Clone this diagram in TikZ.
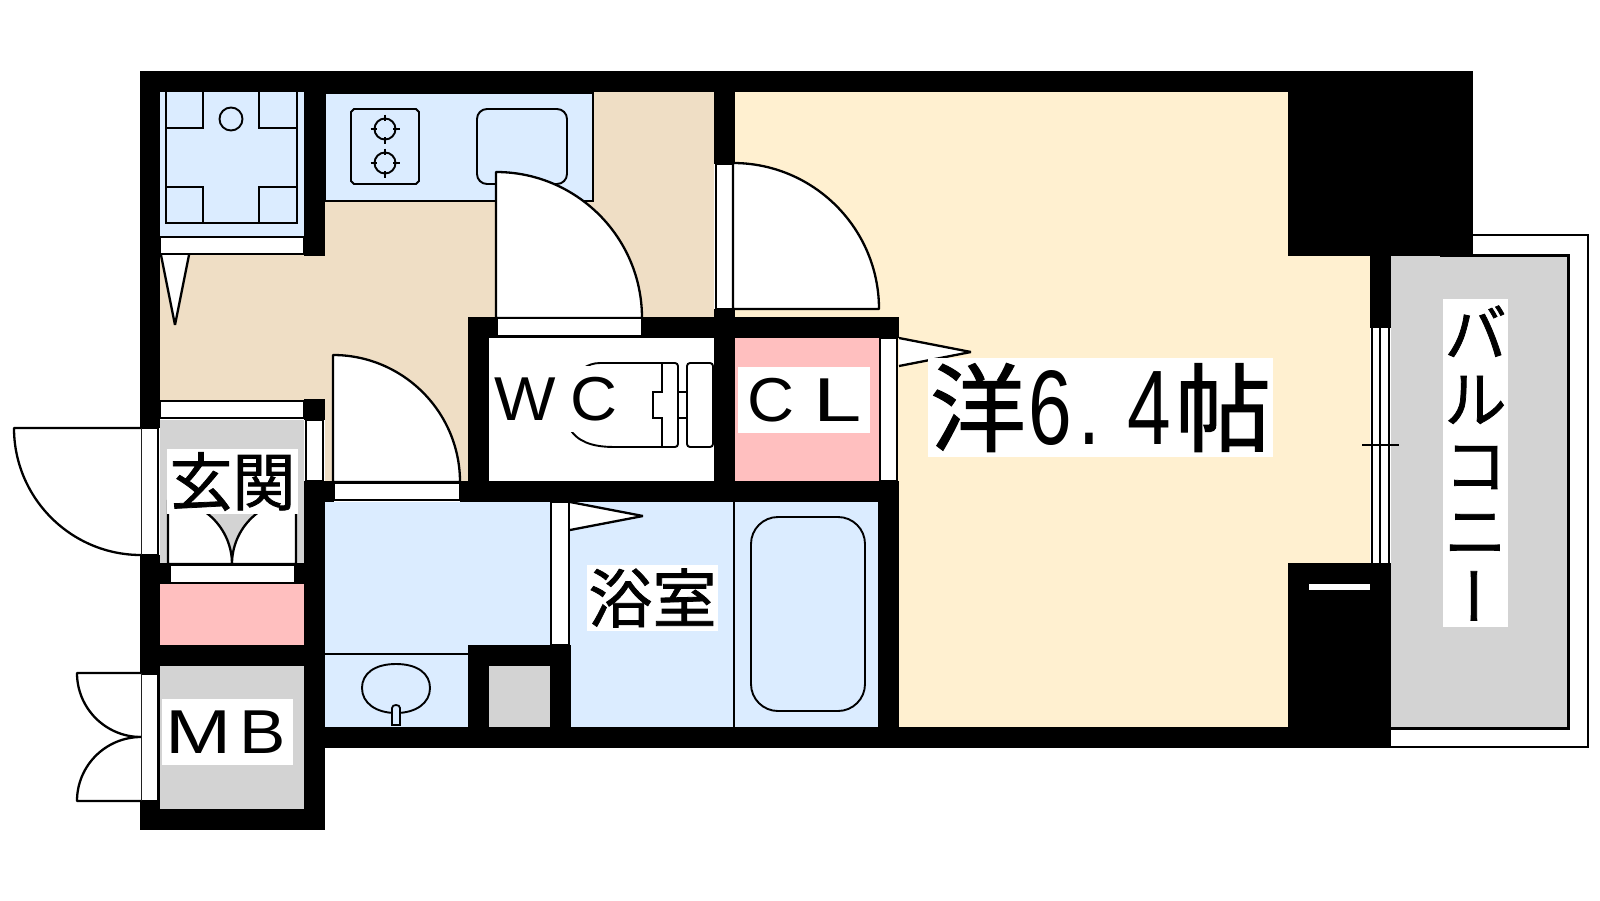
\documentclass[tikz,border=0pt]{standalone}
\usepackage{fontspec}
\setmainfont{Liberation Sans}
\newfontfamily\jp[FakeBold=1.2]{Noto Sans CJK JP}
\newfontfamily\wide[FakeStretch=1.28]{Liberation Sans}
\newfontfamily\widea[FakeStretch=1.12]{Liberation Sans}
\newfontfamily\wideb[FakeStretch=1.05]{Liberation Sans}
\newfontfamily\widec[FakeStretch=1.4]{Liberation Sans}
\newfontfamily\tall[FakeStretch=0.74]{Liberation Sans}
\definecolor{creamc}{HTML}{FFF0D0}
\definecolor{beigec}{HTML}{EFDEC5}
\definecolor{bluec}{HTML}{DBECFF}
\definecolor{pinkc}{HTML}{FFBFBF}
\definecolor{grayc}{HTML}{D3D3D3}
\tikzset{
  thin line/.style={draw=black,line width=1.6pt},
  ln/.style={draw=black,line width=1.9pt},
  heavy/.style={draw=black,line width=3pt},
  leaf/.style={draw=black,fill=white,line width=2.3pt,line join=bevel},
  band/.style={draw=black,fill=white,line width=1.6pt},
  lab/.style={fill=white,inner sep=0pt,text=black,align=center},
}
\begin{document}
\begin{tikzpicture}[x=1pt,y=-1pt]
\useasboundingbox (0,0) rectangle (1600,900);
% floors
\fill[creamc] (735,92) rectangle (1370,727);
\fill[beigec] (160,92) rectangle (714,400);
\fill[beigec] (325,400) rectangle (468,481);
\fill[white] (489,338) rectangle (714,481);
\fill[pinkc] (735,338) rectangle (879,481);
\fill[bluec] (325,502) rectangle (878,727);
\fill[grayc] (160,420) rectangle (304,563);
\fill[pinkc] (160,584) rectangle (304,645);
\fill[grayc] (160,666) rectangle (304,809);
\fill[bluec] (160,92) rectangle (304,236);
\path[fill=bluec,ln] (325,201) -- (593,201) -- (593,93) -- (325,93) -- cycle;
\fill[grayc] (1391,256) rectangle (1567,727);
% balcony lines
\draw[ln] (1473,235) -- (1588,235) -- (1588,747) -- (1380,747);
\draw[heavy] (1440,255) -- (1568,255) -- (1568,728) -- (1391,728);
% walls
\fill[black] (140,71) rectangle (1473,92);
\fill[black] (140,71) rectangle (160,428);
\fill[black] (140,555) rectangle (160,830);
\fill[black] (140,809) rectangle (325,830);
\fill[black] (140,645) rectangle (325,666);
\fill[black] (140,563) rectangle (170,584);
\fill[black] (295,563) rectangle (325,584);
\fill[black] (304,92) rectangle (325,256);
\fill[black] (304,399) rectangle (325,420);
\fill[black] (304,481) rectangle (325,830);
\fill[black] (325,481) rectangle (334,502);
\fill[black] (460,481) rectangle (899,502);
\fill[black] (468,317) rectangle (899,338);
\fill[black] (468,317) rectangle (489,481);
\fill[black] (714,92) rectangle (735,164);
\fill[black] (714,309) rectangle (735,481);
\fill[black] (878,502) rectangle (899,748);
\fill[black] (325,727) rectangle (1391,748);
\fill[black] (468,645) rectangle (571,727);
\fill[grayc] (489,666) rectangle (550,727);
\fill[black] (1288,71) rectangle (1473,256);
\fill[black] (1370,256) rectangle (1391,328);
\fill[black] (1288,563) rectangle (1391,748);
\fill[white] (1309,584) rectangle (1370,590);
% closet
\path[band] (160,237) rectangle (304,254);
\draw[ln] (166,92) -- (166,223) -- (297,223) -- (297,92);
\draw[ln] (166,128) -- (203,128) -- (203,92);
\draw[ln] (297,128) -- (259,128) -- (259,92);
\draw[ln] (166,187) -- (203,187) -- (203,223);
\draw[ln] (297,187) -- (259,187) -- (259,223);
\draw[ln] (231,119) circle (11.5);
\path[leaf] (161,255) -- (175,325) -- (189,255);
% stove
\draw[ln] (354,109) -- (416,109) -- (419,112) -- (419,181) -- (416,184) -- (354,184) -- (351,181) -- (351,112) -- cycle;
\foreach \cy in {129,163}{
  \draw[ln] (385,\cy) circle (10.5);
  \draw[line width=2.2pt] (385,\cy-14.5) -- (385,\cy-8);
  \draw[line width=2.2pt] (385,\cy+14.5) -- (385,\cy+8);
  \draw[line width=2.2pt] (370.5,\cy) -- (377,\cy);
  \draw[line width=2.2pt] (399.5,\cy) -- (393,\cy);
}
% sink
\draw[ln,rounded corners=10pt] (477,109) rectangle (567,184);
% doors
\path[leaf] (496,318) -- (496,172) .. controls (576.6,172) and (642,237.4) .. (642,318) -- cycle;
\path[band] (497,318) rectangle (642,336);
\path[band] (716,164) rectangle (733,309);
\path[leaf] (733,309) -- (733,163) .. controls (813.6,163) and (879,228.4) .. (879,309) -- cycle;
\path[leaf] (333,482) -- (333,355) .. controls (403,355) and (460,412) .. (460,482) -- cycle;
\path[band] (334,483) rectangle (460,500);
\path[band] (160,401) rectangle (304,418);
\path[band] (306,420) rectangle (323,481);
% entrance
\path[band] (141,428) rectangle (158,555);
\path[leaf] (141,428) -- (14,428) .. controls (14,498) and (71,555) .. (141,555);
\path[leaf] (168,564) -- (168,500) .. controls (203.3,500) and (232,528.7) .. (232,564) -- cycle;
\path[leaf] (296,564) -- (296,500) .. controls (260.7,500) and (232,528.7) .. (232,564) -- cycle;
\path[band] (170,565) rectangle (295,583);
% meter box doors
\path[band] (141,674) rectangle (158,801);
\path[leaf] (141,673) -- (77,673) .. controls (77,708.3) and (105.7,737) .. (141,737);
\path[leaf] (141,801) -- (77,801) .. controls (77,765.7) and (105.7,737) .. (141,737);
% closet CL
\path[band] (880,338) rectangle (897,481);
\path[leaf] (899,338) -- (971,352) -- (899,366);
% bath
\path[band] (551,502) rectangle (569,645);
\path[leaf] (570,502) -- (643,516) -- (570,530);
\draw[thin line] (734,502) -- (734,727);
\draw[ln,rounded corners=27pt] (751,517) rectangle (865,711);
\draw[thin line] (325,654) -- (468,654);
% basin
\draw[ln] (396,664) .. controls (418,664) and (430,674) .. (430,688) .. controls (430,703) and (416,713) .. (396,713) .. controls (376,713) and (362,703) .. (362,688) .. controls (362,674) and (374,664) .. (396,664) -- cycle;
\path[draw=black,fill=bluec,line width=1.8pt] (392,725) -- (392,708) .. controls (392,704) and (400,704) .. (400,708) -- (400,725) -- cycle;
% toilet
\draw[ln] (662,363) -- (600,363) .. controls (575,363) and (555,395) .. (572,432) .. controls (582,445) and (600,447) .. (615,447) -- (662,447);
\draw[ln,rounded corners=3pt] (662,363) -- (678,363) -- (678,447) -- (662,447);
\draw[ln] (662,363) -- (662,392) -- (653,392) -- (653,418) -- (662,418) -- (662,447);
\draw[ln,rounded corners=3pt] (687,363) rectangle (713,447);
\draw[ln] (678,392) -- (687,392);
\draw[ln] (678,418) -- (687,418);
% window
\fill[white] (1371,328) rectangle (1390,563);
\draw[thin line] (1372,328) -- (1372,563);
\draw[thin line] (1380,328) -- (1380,563);
\draw[thin line] (1389,328) -- (1389,563);
\draw[line width=1.2pt] (1362,445) -- (1399,445);
% labels
\node[lab,minimum width=131,minimum height=65] (genkan) at (232.5,481.5) {\jp\fontsize{63}{66}\selectfont 玄関};
\node[lab,minimum width=131,minimum height=66] (mb) at (227.5,732) {\raisebox{-1pt}{\fontsize{62}{66}\selectfont{\wide M}\kern8pt{\widea B}\kern4pt}};
\node[lab,minimum width=132,minimum height=66] (wc) at (556,399) {\raisebox{-2pt}{\fontsize{62}{66}\selectfont\wideb W\kern14pt C}};
\node[lab,minimum width=132,minimum height=66] (cl) at (804,400) {\raisebox{-2pt}{\fontsize{62}{66}\selectfont\kern2pt{\wideb C}\kern19pt{\widec L}}};
\node[lab,minimum width=131,minimum height=66] (bath) at (652.5,598) {\jp\fontsize{64}{66}\selectfont 浴室};
\node[lab,minimum width=345,minimum height=99] (room) at (1100.5,407.5) {\raisebox{-1pt}{{\jp\fontsize{96}{96}\selectfont 洋}\kern3pt{\tall\fontsize{106}{106}\selectfont 6\kern6pt.\kern27pt 4}\kern4pt{\jp\fontsize{96}{96}\selectfont 帖}}};
\node[lab,minimum width=65,minimum height=328,font=\jp\fontsize{62}{66}\selectfont] (bal) at (1475.5,463) {バ\\ル\\コ\\ニ\\\smash{\raisebox{11pt}{\kern-24pt\rotatebox[origin=c]{-90}{ー}}}};
\end{tikzpicture}
\end{document}
